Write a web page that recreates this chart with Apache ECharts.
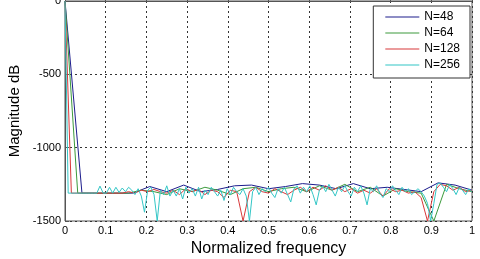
<!DOCTYPE html>
<html><head><meta charset="utf-8">
<script src="https://cdn.jsdelivr.net/npm/echarts@6/dist/echarts.min.js"></script>
<style>html,body{margin:0;padding:0;background:#fff}#c{width:480px;height:259px}</style>
</head><body><div id="c"></div>
<script>
const seriesNames = ['N=48', 'N=64', 'N=128', 'N=256'];
const xTicks = ['0','0.1','0.2','0.3','0.4','0.5','0.6','0.7','0.8','0.9','1'];
const yTicks = [0, -500, -1000, -1500];

const magN48 = [0,-1310,-1310,-1310,-1310,-1265,-1300,-1255,-1300,-1285,-1260,-1255,-1280,-1265,-1245,-1255,-1280,-1245,-1280,-1270,-1285,-1300,-1240,-1255,-1290];
const magN64 = [0,-1310,-1310,-1310,-1310,-1310,-1290,-1300,-1320,-1280,-1300,-1270,-1290,-1320,-1280,-1270,-1300,-1280,-1270,-1300,-1260,-1290,-1250,-1300,-1270,-1330,-1280,-1300,-1310,-1500,-1250,-1280,-1300];
const magN128 = [0,-1310,-1310,-1310,-1310,-1310,-1310,-1310,-1310,-1310,-1300,-1310,-1290,-1300,-1285,-1300,-1310,-1290,-1320,-1280,-1300,-1285,-1320,-1290,-1300,-1340,-1290,-1300,-1500,-1300,-1270,-1300,-1310,-1280,-1300,-1320,-1290,-1270,-1300,-1270,-1290,-1260,-1290,-1270,-1300,-1280,-1310,-1290,-1310,-1280,-1330,-1280,-1300,-1290,-1310,-1300,-1340,-1500,-1300,-1250,-1260,-1290,-1270,-1300,-1290];
const magN256 = [0,-1310,-1310,-1310,-1310,-1310,-1310,-1310,-1310,-1310,-1310,-1262,-1310,-1310,-1270,-1310,-1270,-1305,-1275,-1300,-1270,-1290,-1320,-1280,-1330,-1440,-1290,-1270,-1320,-1500,-1290,-1320,-1260,-1330,-1290,-1330,-1280,-1350,-1270,-1310,-1280,-1330,-1270,-1350,-1290,-1320,-1270,-1300,-1330,-1290,-1360,-1280,-1320,-1270,-1300,-1320,-1280,-1330,-1500,-1300,-1270,-1320,-1280,-1300,-1270,-1310,-1340,-1280,-1310,-1270,-1320,-1370,-1280,-1260,-1310,-1270,-1300,-1260,-1320,-1390,-1290,-1260,-1300,-1250,-1290,-1330,-1270,-1300,-1260,-1300,-1330,-1270,-1300,-1260,-1310,-1390,-1280,-1300,-1260,-1310,-1340,-1280,-1300,-1260,-1290,-1320,-1270,-1300,-1280,-1320,-1300,-1280,-1300,-1330,-1380,-1500,-1380,-1250,-1240,-1270,-1300,-1250,-1280,-1320,-1270,-1290,-1320,-1280,-1300];

const colors = ['#1c1c8c', '#3c9a3c', '#d8383a', '#33c6c6'];
const allMags = [magN48, magN64, magN128, magN256];

function toPairs(arr){ return arr.map((v,i)=>[i/(arr.length-1), v]); }

const chart = echarts.init(document.getElementById('c'), null, {renderer:'canvas'});
const font = 'Liberation Sans, Arial, sans-serif';
chart.setOption({
  animation:false,
  backgroundColor:'#fff',
  color: colors,
  grid:{left:65, right:8, top:1, bottom:38, show:true, borderColor:'#555', borderWidth:1, backgroundColor:'#fff', outerBoundsMode:'none', containLabel:false},
  legend:{
    data: seriesNames, orient:'vertical', right:10, top:6,
    icon:'rect', itemWidth:34, itemHeight:1, itemGap:4,
    padding:[5,10,7,12], borderColor:'#333', borderWidth:1, backgroundColor:'#fff',
    textStyle:{fontFamily:font, fontSize:12, color:'#000'}
  },
  xAxis:{
    type:'value', min:0, max:1, interval:0.1,
    name:'Normalized frequency', nameLocation:'middle', nameGap:18,
    nameTextStyle:{fontFamily:font, fontSize:16, color:'#000'},
    axisLine:{show:true, lineStyle:{color:'#555'}},
    axisTick:{show:true, inside:true, length:4, lineStyle:{color:'#555'}},
    axisLabel:{fontFamily:font, fontSize:11, color:'#000', margin:4,
      formatter:(v)=>{ const i=Math.round(v*10); return xTicks[i]; }},
    splitLine:{show:true, lineStyle:{color:'#333', type:[2,3], width:1}}
  },
  yAxis:{
    type:'value', min:-1500, max:0, interval:500,
    name:'Magnitude dB', nameLocation:'middle', nameGap:43,
    nameTextStyle:{fontFamily:font, fontSize:15, color:'#000'},
    axisLine:{show:true, lineStyle:{color:'#555'}},
    axisTick:{show:true, inside:true, length:4, lineStyle:{color:'#555'}},
    axisLabel:{fontFamily:font, fontSize:11, color:'#000', margin:4,
      formatter:(v)=> yTicks.includes(v) ? String(v) : ''},
    splitLine:{show:true, lineStyle:{color:'#333', type:[2,3], width:1}}
  },
  series: seriesNames.map((n,i)=>({
    name:n, type:'line', data:toPairs(allMags[i]), symbol:'none', clip:true,
    lineStyle:{width:1, color:colors[i]}, itemStyle:{color:colors[i]}
  }))
});
</script></body></html>
